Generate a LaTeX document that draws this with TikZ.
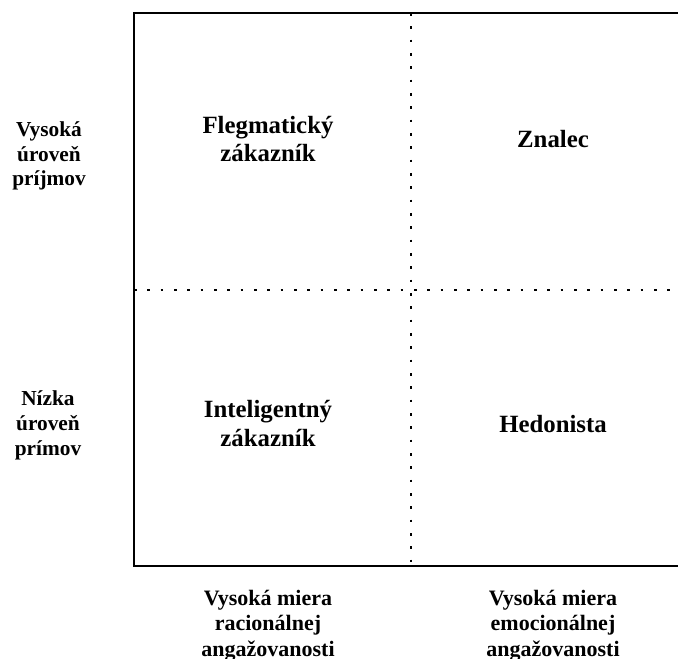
\documentclass[tikz,border=0pt]{standalone}
\usepackage{fontspec}
\setmainfont{Liberation Serif}
\begin{document}
\begin{tikzpicture}[x=0.75pt,y=-0.75pt,
  quad/.style={font=\fontsize{18.6}{21.2}\selectfont\bfseries, align=center, anchor=base, inner sep=0pt},
  sidelab/.style={font=\fontsize{16}{18.6}\selectfont\bfseries, align=center, anchor=base, inner sep=0pt},
  axislab/.style={font=\fontsize{16.5}{19}\selectfont\bfseries, align=center, anchor=base, inner sep=0pt},
  frame/.style={line width=1.4pt, line cap=rect},
  dotline/.style={line width=2.1pt, dash pattern=on 2.1pt off 7.9pt}]
\useasboundingbox (0,0) rectangle (678,659);
\coordinate (tl) at (134,13);
\coordinate (tr) at (678,13);
\coordinate (bl) at (134,566);
\coordinate (br) at (678,566);
\coordinate (vt) at (411,13);
\coordinate (vb) at (411,566);
\coordinate (hl) at (134,290);
\coordinate (hr) at (678,290);
\draw[frame] (tr) -- (tl) -- (bl) -- (br);
\draw[dotline] (vt) -- (vb);
\draw[dotline] (hl) -- (hr);
\node[quad] (q1) at (268,162) {Flegmatický\\zákazník};
\node[quad] (q2) at (553,148) {Znalec};
\node[quad] (q3) at (268,446) {Inteligentný\\zákazník};
\node[quad] (q4) at (553,432) {Hedonista};
\node[sidelab] (y1) at (49,186) {Vysoká\\úroveň\\príjmov};
\node[sidelab] (y2) at (48,455) {Nízka\\úroveň\\prímov};
\node[axislab] (x1) at (268,656) {Vysoká miera\\racionálnej\\angažovanosti};
\node[axislab] (x2) at (553,656) {Vysoká miera\\emocionálnej\\angažovanosti};
\end{tikzpicture}
\end{document}
